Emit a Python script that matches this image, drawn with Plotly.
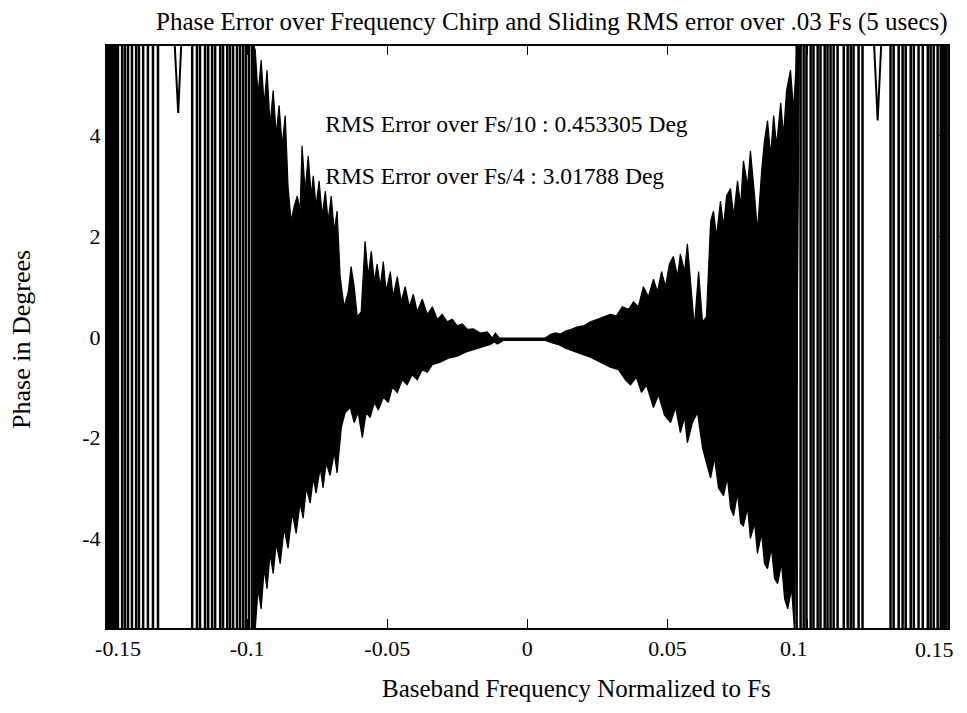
import plotly.graph_objects as go

NBSP = "\u00a0"

# x axis: baseband frequency normalized to Fs; y axis: phase error in degrees
x_ticks = [-0.15, -0.1, -0.05, 0, 0.05, 0.1, 0.15]
x_tick_text = [NBSP * 4 + "-0.15", "-0.1", "-0.05", "0", "0.05", "0.1" + NBSP * 5, ""]
x_edge_label = "0.15"  # last tick label, drawn separately so it stays on the page
y_ticks = [-4, -2, 0, 2, 4]
y_tick_text = ["-4", "-2", "0", "2", "4"]

# upper envelope of the dense chirp error (peaks / notches)
upper_freq = [
    -0.0982, -0.0971, -0.0961, -0.0950, -0.0939, -0.0929, -0.0918, -0.0907,
    -0.0896, -0.0886, -0.0875, -0.0864, -0.0854, -0.0843, -0.0832, -0.0821,
    -0.0811, -0.0804, -0.0793, -0.0782, -0.0771, -0.0764, -0.0754, -0.0743,
    -0.0732, -0.0721, -0.0711, -0.0700, -0.0689, -0.0679, -0.0668, -0.0654,
    -0.0639, -0.0629, -0.0618, -0.0607, -0.0593, -0.0579, -0.0568, -0.0557,
    -0.0546, -0.0536, -0.0525, -0.0514, -0.0504, -0.0489, -0.0479, -0.0464,
    -0.0450, -0.0436, -0.0421, -0.0407, -0.0393, -0.0375, -0.0357, -0.0339,
    -0.0321, -0.0304, -0.0286, -0.0268, -0.0250, -0.0232, -0.0214, -0.0193,
    -0.0168, -0.0143, -0.0125, -0.0114, -0.0100, -0.0086, 0.0000, 0.0064,
    0.0082, 0.0100, 0.0118, 0.0136, 0.0154, 0.0179, 0.0200, 0.0225,
    0.0250, 0.0271, 0.0296, 0.0318, 0.0339, 0.0361, 0.0379, 0.0396,
    0.0414, 0.0432, 0.0450, 0.0464, 0.0479, 0.0493, 0.0507, 0.0521,
    0.0536, 0.0546, 0.0561, 0.0571, 0.0586, 0.0596, 0.0611, 0.0625,
    0.0639, 0.0654, 0.0664, 0.0675, 0.0689, 0.0700, 0.0711, 0.0725,
    0.0736, 0.0750, 0.0761, 0.0771, 0.0786, 0.0796, 0.0811, 0.0821,
    0.0836, 0.0846, 0.0857, 0.0868, 0.0879, 0.0889, 0.0904, 0.0914,
    0.0925, 0.0939, 0.0950, 0.0961, 0.0971,
]
upper_deg = [
    5.9, 5.7, 4.8, 5.5, 4.6, 5.3, 4.2, 4.9,
    4.0, 4.6, 3.8, 4.4, 3.0, 2.3, 2.6, 2.8,
    2.5, 3.8, 2.9, 3.6, 2.8, 3.2, 2.6, 3.1,
    2.4, 2.9, 2.3, 2.8, 2.1, 2.5, 1.2, 0.6,
    0.9, 1.4, 1.0, 0.4, 0.5, 1.9, 1.2, 1.7,
    1.1, 1.45, 1.0, 1.5, 0.9, 1.3, 0.8, 1.2,
    0.7, 1.0, 0.6, 0.85, 0.5, 0.75, 0.45, 0.6,
    0.35, 0.45, 0.3, 0.35, 0.22, 0.26, 0.15, 0.16,
    0.08, 0.1, -0.02, 0.08, -0.02, -0.02, -0.02, -0.02,
    0.05, 0.08, 0.06, 0.12, 0.15, 0.2, 0.22, 0.3,
    0.35, 0.4, 0.45, 0.42, 0.6, 0.55, 0.7, 0.6,
    1.0, 0.8, 1.15, 0.9, 1.3, 1.0, 1.45, 1.6,
    1.2, 1.65, 1.3, 1.85, 0.8, 0.2, 1.3, 0.3,
    0.4, 2.3, 2.5, 2.0, 2.7, 2.2, 2.8, 2.95,
    2.4, 3.1, 2.6, 3.5, 3.0, 3.7, 2.8, 2.1,
    3.3, 3.9, 4.3, 3.6, 4.4, 3.8, 4.65, 4.0,
    4.9, 5.3, 4.5, 5.6, 5.9,
]

# lower envelope of the dense chirp error
lower_freq = [
    -0.0982, -0.0971, -0.0961, -0.0950, -0.0939, -0.0929, -0.0918, -0.0907,
    -0.0896, -0.0882, -0.0868, -0.0854, -0.0839, -0.0825, -0.0811, -0.0800,
    -0.0789, -0.0775, -0.0764, -0.0754, -0.0739, -0.0729, -0.0718, -0.0704,
    -0.0689, -0.0679, -0.0664, -0.0650, -0.0632, -0.0618, -0.0604, -0.0589,
    -0.0575, -0.0561, -0.0546, -0.0532, -0.0514, -0.0496, -0.0482, -0.0464,
    -0.0446, -0.0429, -0.0411, -0.0393, -0.0375, -0.0357, -0.0339, -0.0311,
    -0.0282, -0.0250, -0.0221, -0.0193, -0.0164, -0.0132, -0.0118, -0.0107,
    -0.0086, 0.0000, 0.0064, 0.0089, 0.0111, 0.0136, 0.0161, 0.0189,
    0.0225, 0.0261, 0.0296, 0.0325, 0.0350, 0.0368, 0.0389, 0.0407,
    0.0425, 0.0450, 0.0468, 0.0489, 0.0511, 0.0529, 0.0546, 0.0561,
    0.0571, 0.0589, 0.0607, 0.0625, 0.0639, 0.0654, 0.0668, 0.0682,
    0.0700, 0.0714, 0.0725, 0.0736, 0.0750, 0.0761, 0.0771, 0.0786,
    0.0796, 0.0811, 0.0821, 0.0836, 0.0846, 0.0857, 0.0871, 0.0882,
    0.0893, 0.0907, 0.0918, 0.0929, 0.0943, 0.0954,
]
lower_deg = [
    -5.9, -5.8, -5.0, -5.4, -4.6, -5.0, -4.3, -4.7,
    -4.1, -4.5, -3.8, -4.2, -3.5, -3.9, -3.3, -3.6,
    -3.0, -3.3, -2.8, -3.1, -2.6, -3.0, -2.5, -2.75,
    -2.3, -2.7, -1.8, -1.5, -1.4, -1.7, -1.5, -2.0,
    -1.5, -1.6, -1.3, -1.45, -1.2, -1.3, -1.0, -1.1,
    -0.85, -0.95, -0.75, -0.85, -0.65, -0.7, -0.55, -0.5,
    -0.42, -0.38, -0.3, -0.25, -0.2, -0.15, -0.1, -0.14,
    -0.07, -0.07, -0.07, -0.12, -0.15, -0.22, -0.28, -0.33,
    -0.4, -0.5, -0.6, -0.65, -0.85, -0.95, -0.8, -1.1,
    -0.95, -1.4, -1.15, -1.55, -1.7, -1.4, -1.9, -1.6,
    -2.1, -1.7, -1.5, -2.2, -2.5, -2.8, -2.4, -3.0,
    -3.15, -2.8, -3.4, -3.55, -3.1, -3.7, -3.75, -3.4,
    -4.0, -3.7, -4.3, -3.9, -4.5, -4.6, -4.2, -4.8,
    -4.9, -4.5, -5.2, -5.4, -5.0, -5.9,
]

# beyond +-0.1 Fs the error swings past the axis limits on every cycle
stripe_freq = [
    -0.1496, -0.1489, -0.1482, -0.1475, -0.1468, -0.1461, -0.1446, -0.1436,
    -0.1425, -0.1411, -0.1396, -0.1386, -0.1371, -0.1354, -0.1336, -0.1318,
    -0.1196, -0.1179, -0.1168, -0.1150, -0.1139, -0.1125, -0.1114, -0.1096,
    -0.1086, -0.1071, -0.1061, -0.1050, -0.1036, -0.1025, -0.1014, -0.1004,
    -0.0993, -0.0982,
    0.0961, 0.0975, 0.0986, 0.0996, 0.1011, 0.1021, 0.1036, 0.1046,
    0.1061, 0.1071, 0.1082, 0.1093, 0.1107, 0.1129, 0.1143, 0.1154,
    0.1164, 0.1182, 0.1196,
    0.1296, 0.1307, 0.1325, 0.1339, 0.1350, 0.1368, 0.1379, 0.1396,
    0.1411, 0.1429, 0.1439, 0.1450, 0.1464, 0.1475, 0.1482, 0.1489, 0.1496,
]
stripe_swing = 12.0

# slow excursions that stay above the top of the axis
dip_left_freq = [-0.1262, -0.1246, -0.1232]
dip_left_deg = [6.2, 4.45, 6.2]
dip_right_freq = [0.1234, 0.1250, 0.1266]
dip_right_deg = [6.2, 4.3, 6.2]

rms_labels = [
    "RMS Error over Fs/10 : 0.453305 Deg",
    "RMS Error over Fs/4 : 3.01788 Deg",
]
rms_label_freq = [-0.0721, -0.0721]
rms_label_deg = [4.18, 3.16]

FONT = "Liberation Serif, Times New Roman, serif"

fig = go.Figure()

# body of the chirp error, filled between upper and lower envelopes
fig.add_trace(
    go.Scatter(
        x=upper_freq + lower_freq[::-1],
        y=upper_deg + lower_deg[::-1],
        mode="lines",
        fill="toself",
        fillcolor="black",
        line={"color": "black", "width": 1.2},
        hoverinfo="skip",
        showlegend=False,
    )
)

stripe_x, stripe_y = [], []
for f in stripe_freq:
    stripe_x += [f, f, None]
    stripe_y += [-stripe_swing, stripe_swing, None]
fig.add_trace(
    go.Scatter(
        x=stripe_x,
        y=stripe_y,
        mode="lines",
        line={"color": "black", "width": 2.5},
        hoverinfo="skip",
        showlegend=False,
    )
)

for fx, fy in [(dip_left_freq, dip_left_deg), (dip_right_freq, dip_right_deg)]:
    fig.add_trace(
        go.Scatter(
            x=fx,
            y=fy,
            mode="lines",
            line={"color": "black", "width": 2},
            hoverinfo="skip",
            showlegend=False,
        )
    )

fig.add_trace(
    go.Scatter(
        x=rms_label_freq,
        y=rms_label_deg,
        mode="text",
        text=rms_labels,
        textposition="middle right",
        textfont={"family": FONT, "size": 23.5, "color": "black"},
        hoverinfo="skip",
        showlegend=False,
    )
)

fig.add_annotation(
    text="Phase Error over Frequency Chirp and Sliding RMS error over .03 Fs (5 usecs)",
    xref="paper",
    yref="paper",
    x=0.529,
    y=1.0,
    yshift=24,
    yanchor="middle",
    showarrow=False,
    font={"family": FONT, "size": 25, "color": "black"},
)
fig.add_annotation(
    text="Baseband Frequency Normalized to Fs",
    xref="paper",
    yref="paper",
    x=0.558,
    y=0,
    yshift=-60,
    yanchor="middle",
    showarrow=False,
    font={"family": FONT, "size": 25, "color": "black"},
)
fig.add_annotation(
    text="Phase in Degrees",
    xref="paper",
    yref="paper",
    x=0,
    xshift=-85,
    y=0.495,
    textangle=-90,
    xanchor="center",
    showarrow=False,
    font={"family": FONT, "size": 26, "color": "black"},
)
fig.add_annotation(
    text=x_edge_label,
    xref="x",
    yref="paper",
    x=x_ticks[-1],
    xanchor="right",
    xshift=8,
    y=0,
    yshift=-21,
    yanchor="middle",
    showarrow=False,
    font={"family": FONT, "size": 22, "color": "black"},
)

axis_style = dict(
    ticks="inside",
    ticklen=9,
    tickwidth=1.2,
    tickcolor="black",
    showline=True,
    linecolor="black",
    linewidth=2,
    mirror="ticks",
    showgrid=False,
    zeroline=False,
    automargin=False,
    ticklabeloverflow="allow",
    tickfont={"family": FONT, "size": 22, "color": "black"},
)
fig.update_xaxes(range=[-0.15, 0.1501], tickvals=x_ticks, ticktext=x_tick_text, **axis_style)
fig.update_yaxes(range=[-5.78, 5.78], tickvals=y_ticks, ticktext=y_tick_text, **axis_style)

# page body keeps an 8px margin, so the figure is sized to fit inside it
fig.update_layout(
    width=951,
    height=697,
    margin={"l": 99, "r": 11, "t": 38, "b": 77},
    paper_bgcolor="white",
    plot_bgcolor="white",
    showlegend=False,
)

fig.write_html("out.html")
